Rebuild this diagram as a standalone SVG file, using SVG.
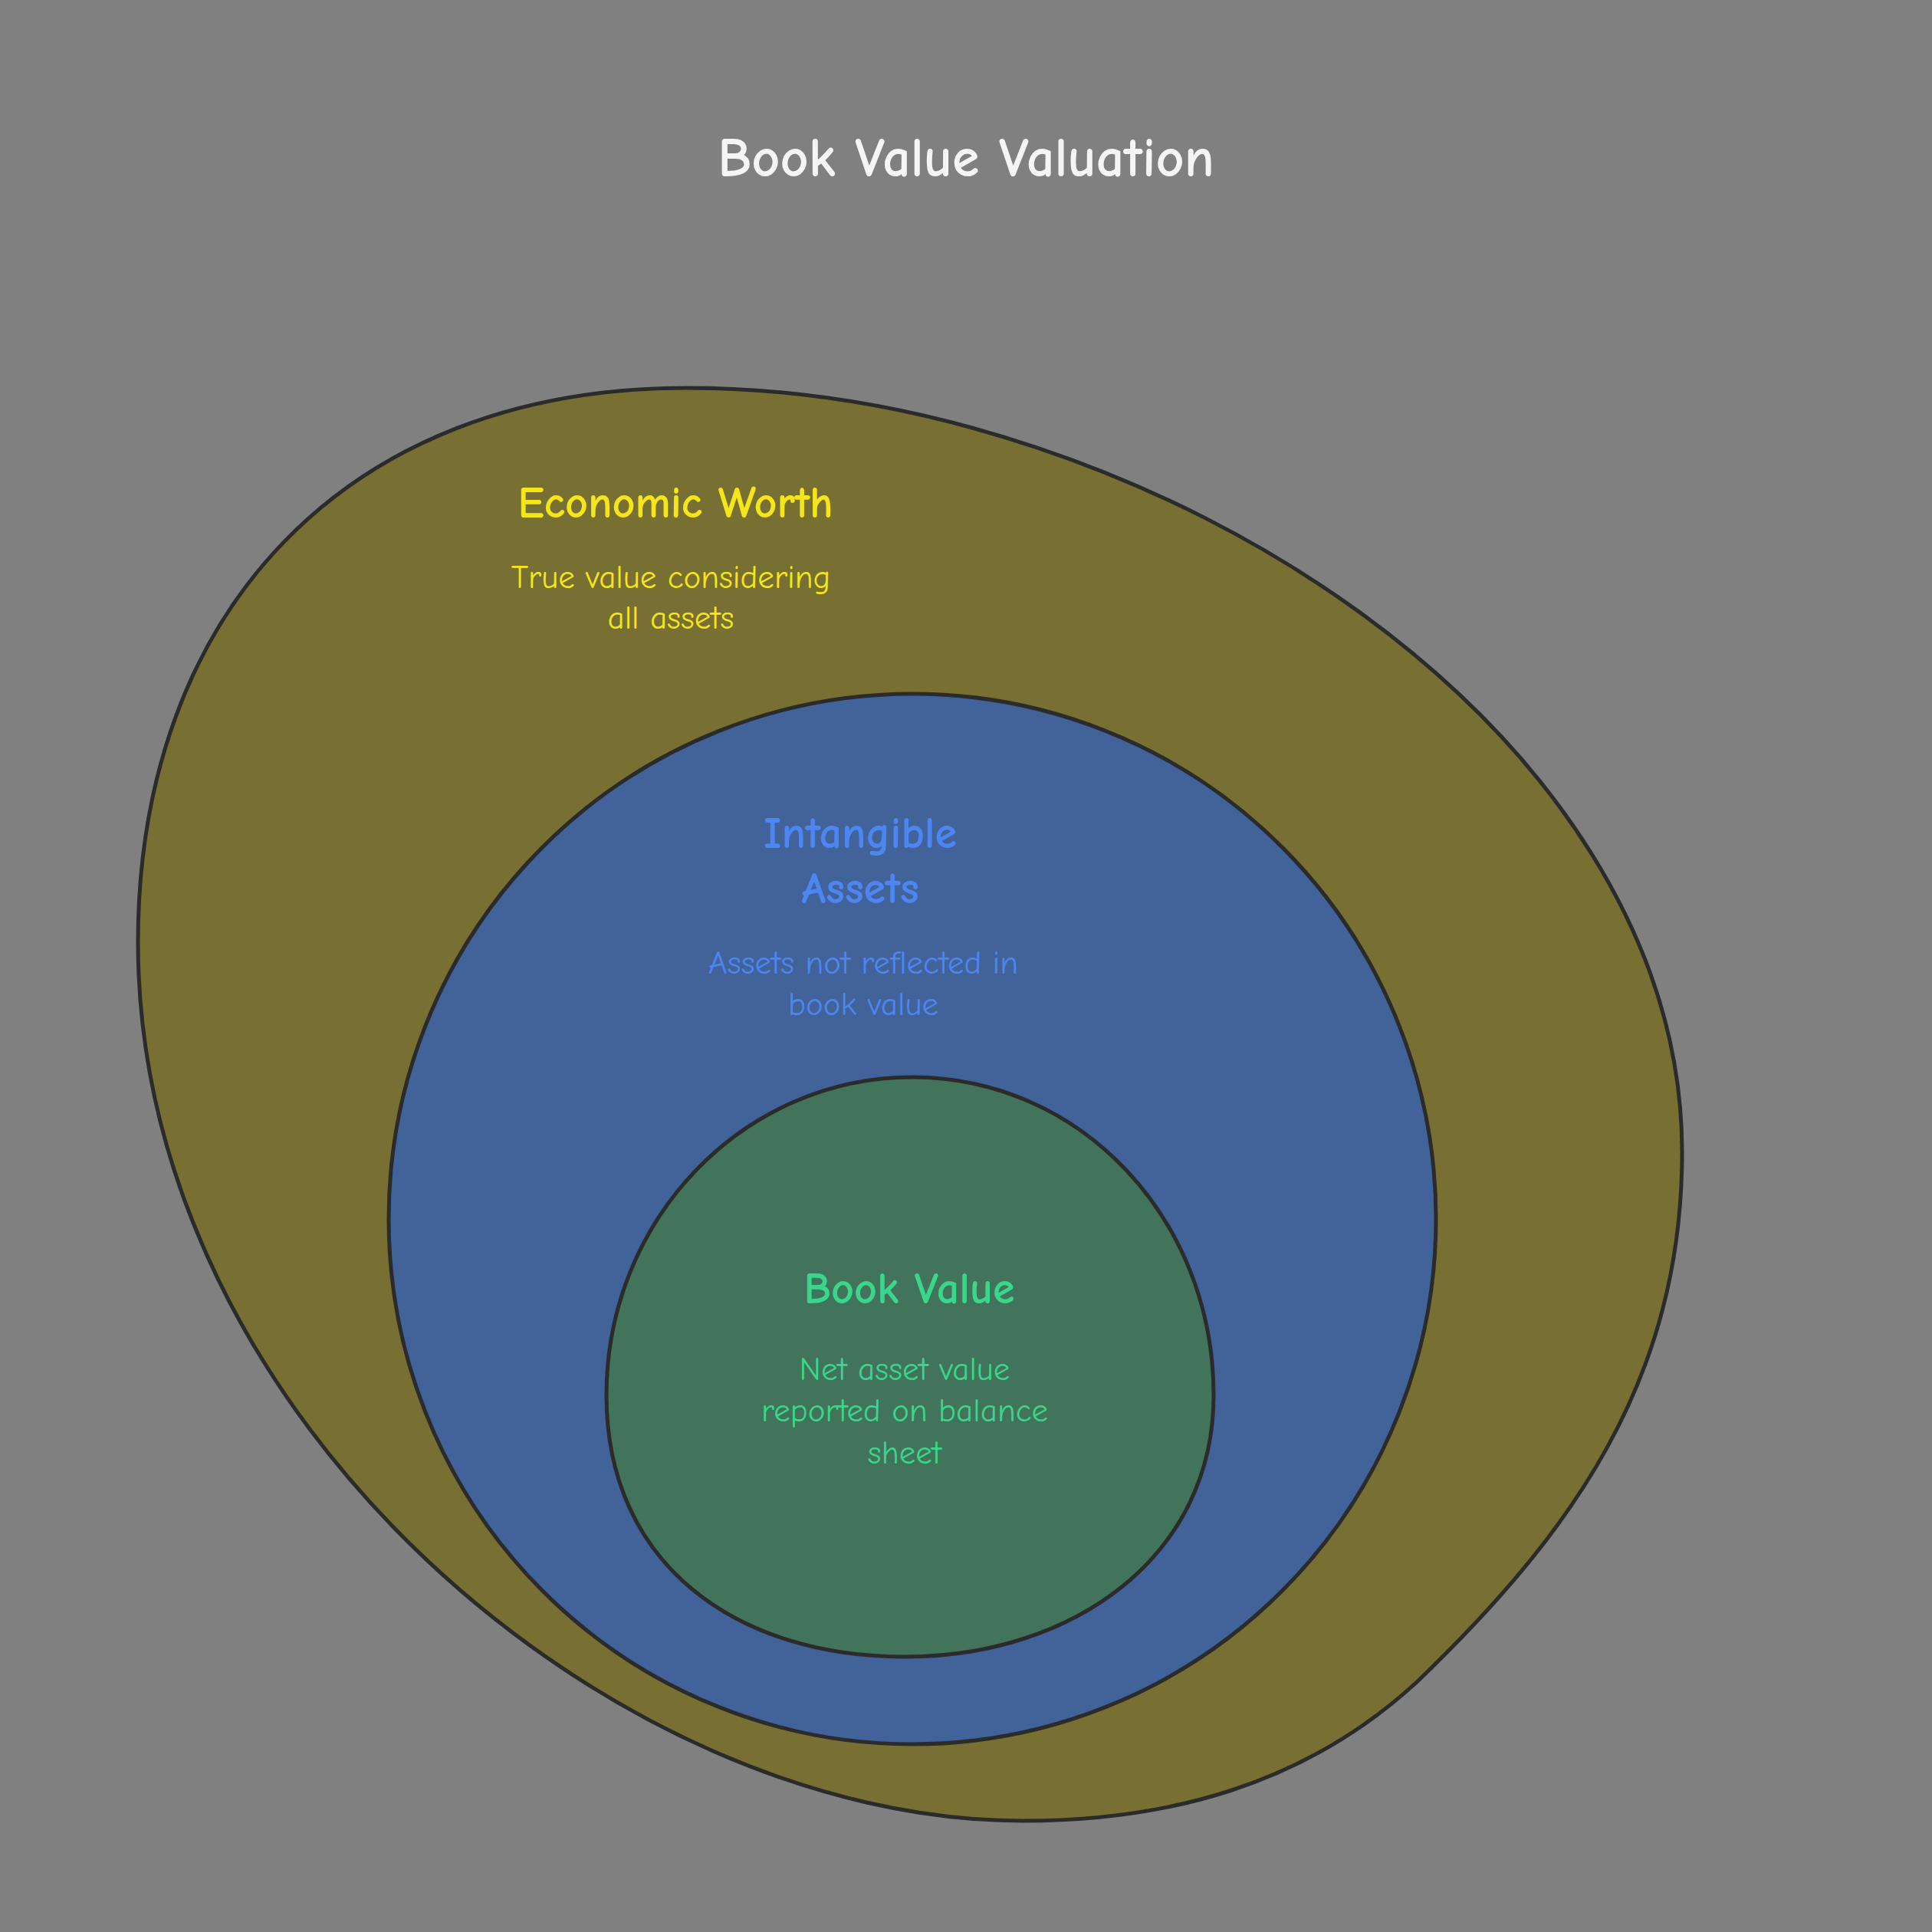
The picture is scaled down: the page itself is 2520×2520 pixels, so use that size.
<svg xmlns="http://www.w3.org/2000/svg" width="2520" height="2520" viewBox="0 0 2520 2520">
<style>
.shape{stroke:#2b2b2b;stroke-width:5}
text{font-family:"Comic Neue","Liberation Sans",sans-serif;text-anchor:middle}
.h{font-weight:bold;font-size:58px}
.s{font-size:43px}
</style>
<rect width="2520" height="2520" fill="#808080"/>
<text x="1260" y="230" font-size="72" font-weight="bold" fill="#f5f5f5">Book Value Valuation</text>
<g id="economic-worth">
<path class="shape" fill="#787032" d="M 895 506 C 1500 506, 2194 950, 2194 1503 C 2194 1800, 2050 2000, 1848 2194 C 1700 2330, 1520 2375, 1334 2375 C 800 2375, 180 1850, 180 1229 C 180 800, 450 506, 895 506 Z"/>
<text class="h" x="881" y="675" fill="#f5e61a">Economic Worth</text>
<text class="s" x="875" y="767" fill="#f5e61a">True value considering</text>
<text class="s" x="875" y="820" fill="#f5e61a">all assets</text>
</g>
<g id="intangible-assets">
<ellipse class="shape" fill="#41639a" cx="1190" cy="1590" rx="683" ry="685"/>
<text class="h" x="1122" y="1106" fill="#4d86f0">Intangible</text>
<text class="h" x="1122" y="1178" fill="#4d86f0">Assets</text>
<text class="s" x="1126" y="1270" fill="#4d86f0">Assets not reflected in</text>
<text class="s" x="1126" y="1324" fill="#4d86f0">book value</text>
</g>
<g id="book-value">
<path class="shape" fill="#42735b" d="M 1190 1405 C 1410 1405, 1583 1590, 1583 1820 C 1583 2030, 1400 2161, 1180 2161 C 960 2161, 791 2040, 791 1820 C 791 1590, 970 1405, 1190 1405 Z"/>
<text class="h" x="1186" y="1700" fill="#3ad68c">Book Value</text>
<text class="s" x="1180" y="1800" fill="#3ad68c">Net asset value</text>
<text class="s" x="1180" y="1854" fill="#3ad68c">reported on balance</text>
<text class="s" x="1180" y="1909" fill="#3ad68c">sheet</text>
</g>
<g id="connectors"/>
</svg>
